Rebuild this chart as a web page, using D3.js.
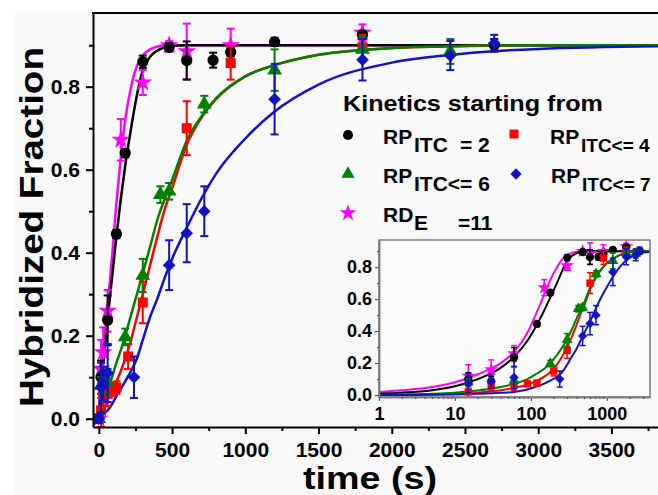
<!DOCTYPE html>
<html>
<head>
<meta charset="utf-8">
<script src="https://cdn.jsdelivr.net/npm/d3@7"></script>
<style>
  body { margin: 0; background: #fff; }
  svg { display: block; font-family: "Liberation Sans", Arial, sans-serif; font-weight: bold; }
</style>
</head>
<body>
<svg id="chart" width="658" height="495"></svg>
<script>
// measured points: time (s), hybridized fraction, error
const blackT = [15, 30, 60, 120, 180, 300, 480, 600, 780, 900, 1200, 1800, 2700];
const blackV = [0.10, 0.085, 0.237, 0.445, 0.64, 0.86, 0.895, 0.863, 0.864, 0.883, 0.908, 0.925, 0.90];
const blackE = [0.04, 0.03, 0.06, 0.01, 0.01, 0.015, 0.01, 0.046, 0.018, 0.01, 0.01, 0.01, 0.015];

const redT = [0, 15, 30, 60, 90, 120, 200, 300, 600, 900, 1800];
const redV = [0.0, 0.02, 0.06, 0.06, 0.07, 0.075, 0.15, 0.28, 0.70, 0.857, 0.895];
const redE = [0.01, 0.04, 0.03, 0.03, 0.015, 0.015, 0.03, 0.05, 0.065, 0.04, 0.03];

const greenT = [0, 15, 60, 180, 300, 420, 480, 720, 1200, 1800, 2400];
const greenV = [0.0, 0.08, 0.09, 0.197, 0.345, 0.54, 0.548, 0.758, 0.84, 0.89, 0.885];
const greenE = [0.01, 0.02, 0.03, 0.02, 0.04, 0.02, 0.02, 0.02, 0.05, 0.03, 0.03];

const blueT = [0, 15, 30, 60, 240, 480, 600, 720, 1200, 1800, 2400, 2700];
const blueV = [0.0, 0.075, 0.085, 0.11, 0.10, 0.37, 0.447, 0.50, 0.77, 0.865, 0.875, 0.905];
const blueE = [0.01, 0.06, 0.04, 0.07, 0.05, 0.06, 0.07, 0.06, 0.085, 0.05, 0.035, 0.02];

const magentaT = [0, 15, 30, 60, 150, 300, 480, 600, 900, 1800];
const magentaV = [0.0, 0.12, 0.16, 0.26, 0.672, 0.81, 0.90, 0.885, 0.90, 0.93];
const magentaE = [0.01, 0.07, 0.06, 0.05, 0.05, 0.03, 0.01, 0.067, 0.04, 0.02];

// fitted curves at these times
const curveT = [0, 1, 2, 5, 10, 20, 40, 60, 90, 120, 150, 180, 220, 260, 300, 350, 400, 450, 500, 600, 700, 800, 1000, 1200, 1500, 2000, 2500, 3000, 4000];
const blackFit = [0, 0.01, 0.015, 0.03, 0.055, 0.1, 0.17, 0.24, 0.34, 0.44, 0.53, 0.61, 0.70, 0.78, 0.84, 0.872, 0.887, 0.895, 0.898, 0.9, 0.9, 0.9, 0.9, 0.9, 0.9, 0.9, 0.9, 0.9, 0.9];
const magentaFit = [0, 0.02, 0.03, 0.05, 0.08, 0.13, 0.2, 0.27, 0.39, 0.52, 0.63, 0.72, 0.80, 0.85, 0.875, 0.89, 0.897, 0.9, 0.9, 0.9, 0.9, 0.9, 0.9, 0.9, 0.9, 0.9, 0.9, 0.9, 0.9];
const redFit = [0, 0.001, 0.002, 0.004, 0.008, 0.015, 0.03, 0.045, 0.065, 0.09, 0.115, 0.145, 0.19, 0.245, 0.30, 0.37, 0.44, 0.505, 0.555, 0.66, 0.725, 0.77, 0.825, 0.852, 0.877, 0.893, 0.898, 0.9, 0.9];
const greenFit = [0, 0.002, 0.004, 0.008, 0.015, 0.028, 0.05, 0.07, 0.10, 0.135, 0.165, 0.20, 0.25, 0.30, 0.35, 0.415, 0.48, 0.53, 0.575, 0.67, 0.728, 0.772, 0.825, 0.852, 0.877, 0.893, 0.898, 0.9, 0.9];
const blueFit = [0, 0.0005, 0.001, 0.002, 0.004, 0.008, 0.014, 0.02, 0.035, 0.055, 0.072, 0.09, 0.115, 0.145, 0.19, 0.245, 0.29, 0.34, 0.385, 0.46, 0.53, 0.59, 0.675, 0.74, 0.805, 0.858, 0.88, 0.891, 0.898];

const xTicks = [0, 500, 1000, 1500, 2000, 2500, 3000, 3500];
const yTicks = [0, 0.2, 0.4, 0.6, 0.8];
const insetXTicks = [1, 10, 100, 1000];

const series = [
  { name: 'magenta', color: '#ff00ff', sym: d3.symbolStar, rot: 0, t: magentaT, v: magentaV, e: magentaE, fit: magentaFit, size: 110 },
  { name: 'black', color: '#000000', sym: d3.symbolCircle, rot: 0, t: blackT, v: blackV, e: blackE, fit: blackFit, size: 100 },
  { name: 'red', color: '#ff0000', sym: d3.symbolSquare, rot: 0, t: redT, v: redV, e: redE, fit: redFit, size: 100 },
  { name: 'green', color: '#008000', sym: d3.symbolTriangle, rot: 0, t: greenT, v: greenV, e: greenE, fit: greenFit, size: 95 },
  { name: 'blue', color: '#1212c4', sym: d3.symbolSquare, rot: 45, t: blueT, v: blueV, e: blueE, fit: blueFit, size: 80 }
];

const svg = d3.select('#chart');

// background
svg.append('rect').attr('x', 15).attr('y', 12).attr('width', 643).attr('height', 483).attr('fill', '#f8f8f8');

// main scales
const x = d3.scaleLinear().domain([-40, 3900]).range([93, 670]);
const y = d3.scaleLinear().domain([-0.02, 0.98]).range([427, 12]);

svg.append('clipPath').attr('id', 'mainClip')
  .append('rect').attr('x', 93).attr('y', 12).attr('width', 577).attr('height', 415);

const main = svg.append('g').attr('clip-path', 'url(#mainClip)');

function drawLayer(g, xs, ys, opts, ptsFilter, fitFilter) {
  const line = d3.line().x(d => xs(d[0])).y(d => ys(d[1])).curve(d3.curveMonotoneX);
  // curves first, in drawing order
  const order = ['magenta', 'black', 'red', 'green', 'blue'];
  order.forEach(n => {
    const s = series.find(d => d.name === n);
    const fit = curveT.map((t, i) => [t, s.fit[i]]).filter(fitFilter);
    g.append('path').datum(fit)
      .attr('d', line)
      .attr('fill', 'none')
      .attr('stroke', s.color)
      .attr('stroke-width', opts.lw);
  });
  // error bars and markers
  series.forEach(s => {
    const pts = s.t.map((t, i) => ({ t: t, v: s.v[i], e: s.e[i] })).filter(ptsFilter);
    const eb = g.append('g').attr('stroke', s.color).attr('stroke-width', opts.ew);
    pts.forEach(p => {
      const px = xs(p.t);
      eb.append('line').attr('x1', px).attr('x2', px).attr('y1', ys(p.v - p.e)).attr('y2', ys(p.v + p.e));
      eb.append('line').attr('x1', px - opts.cap).attr('x2', px + opts.cap).attr('y1', ys(p.v - p.e)).attr('y2', ys(p.v - p.e));
      eb.append('line').attr('x1', px - opts.cap).attr('x2', px + opts.cap).attr('y1', ys(p.v + p.e)).attr('y2', ys(p.v + p.e));
    });
    g.selectAll(null).data(pts).enter().append('path')
      .attr('d', d3.symbol().type(s.sym).size(s.size * opts.scale))
      .attr('transform', d => 'translate(' + xs(d.t) + ',' + ys(d.v) + ') rotate(' + s.rot + ')')
      .attr('fill', s.color);
  });
}

drawLayer(main, x, y, { lw: 2.5, ew: 2, cap: 4, scale: 1 }, d => true, d => true);

// main axes
const yAxisG = svg.append('g').attr('transform', 'translate(93,0)')
  .call(d3.axisLeft(y).tickValues(yTicks).tickFormat(d3.format('.1f')).tickSize(7).tickSizeOuter(0).tickPadding(6));
svg.append('g').attr('transform', 'translate(93,0)')
  .call(d3.axisLeft(y).tickValues([0.1, 0.3, 0.5, 0.7, 0.9]).tickFormat('').tickSize(4).tickSizeOuter(0))
  .select('.domain').remove();
const xAxisG = svg.append('g').attr('transform', 'translate(0,427)')
  .call(d3.axisBottom(x).tickValues(xTicks).tickFormat(d3.format('d')).tickSize(7).tickSizeOuter(0).tickPadding(8));
svg.append('g').attr('transform', 'translate(0,427)')
  .call(d3.axisBottom(x).tickValues(xTicks.map(d => d + 250)).tickFormat('').tickSize(4).tickSizeOuter(0))
  .select('.domain').remove();

svg.selectAll('.domain').attr('stroke', '#000').attr('stroke-width', 2);
svg.selectAll('.tick line').attr('stroke', '#000').attr('stroke-width', 2);
yAxisG.selectAll('text').attr('font-size', 21).attr('font-weight', 'bold').attr('fill', '#000');
xAxisG.selectAll('text').attr('font-size', 21).attr('font-weight', 'bold').attr('fill', '#000');

// top frame line
svg.append('line').attr('x1', 92).attr('x2', 658).attr('y1', 13).attr('y2', 13)
  .attr('stroke', '#000').attr('stroke-width', 2);

// axis titles
svg.append('text')
  .attr('transform', 'translate(43,227) rotate(-90)')
  .attr('text-anchor', 'middle')
  .attr('font-size', 33)
  .attr('textLength', 360)
  .attr('lengthAdjust', 'spacingAndGlyphs')
  .text('Hybridized Fraction');

svg.append('text')
  .attr('x', 370).attr('y', 489)
  .attr('text-anchor', 'middle')
  .attr('font-size', 31)
  .attr('textLength', 134)
  .attr('lengthAdjust', 'spacingAndGlyphs')
  .text('time (s)');

// legend
svg.append('text').attr('x', 343).attr('y', 111).attr('font-size', 22)
  .attr('textLength', 260).attr('lengthAdjust', 'spacingAndGlyphs')
  .text('Kinetics starting from');

const legendRows = [
  { name: 'black', mx: 348, my: 135, tx: 383, ty: 144, main: 'RP', sub: 'ITC', tail: '= 2', tailX: 460, subSize: 21 },
  { name: 'red', mx: 514, my: 134, tx: 550, ty: 144, main: 'RP', sub: 'ITC<= 4', tail: '', tailX: 0, subSize: 19 },
  { name: 'green', mx: 348, my: 174, tx: 383, ty: 183, main: 'RP', sub: 'ITC<= 6', tail: '', tailX: 0, subSize: 21 },
  { name: 'blue', mx: 516, my: 174, tx: 551, ty: 183, main: 'RP', sub: 'ITC<= 7', tail: '', tailX: 0, subSize: 19 },
  { name: 'magenta', mx: 348, my: 213, tx: 383, ty: 222, main: 'RD', sub: 'E', tail: '=11', tailX: 458, subSize: 21 }
];
const leg = svg.append('g');
legendRows.forEach(r => {
  const s = series.find(d => d.name === r.name);
  leg.append('path')
    .attr('d', d3.symbol().type(s.sym).size(s.size * 0.8))
    .attr('transform', 'translate(' + r.mx + ',' + r.my + ') rotate(' + s.rot + ')')
    .attr('fill', s.color);
  leg.append('text').attr('x', r.tx).attr('y', r.ty).attr('font-size', 21).text(r.main);
  leg.append('text').attr('x', r.tx + 31).attr('y', r.ty + 8).attr('font-size', r.subSize).text(r.sub);
  if (r.tail) leg.append('text').attr('x', r.tailX).attr('y', r.ty + 8).attr('font-size', 21).text(r.tail);
});

// inset (log time)
const xi = d3.scaleLog().domain([1, 3700]).range([379, 650]);
const yi = d3.scaleLinear().domain([-0.012, 0.97]).range([397, 240]);

svg.append('rect').attr('x', 379).attr('y', 240).attr('width', 271).attr('height', 157)
  .attr('fill', '#fbfbfb');

svg.append('clipPath').attr('id', 'insetClip')
  .append('rect').attr('x', 379).attr('y', 240).attr('width', 271).attr('height', 157);
const inset = svg.append('g').attr('clip-path', 'url(#insetClip)');
drawLayer(inset, xi, yi, { lw: 2, ew: 1.5, cap: 3, scale: 0.55 }, d => d.t > 0, d => d[0] > 0);

svg.append('rect').attr('x', 379).attr('y', 240).attr('width', 271).attr('height', 157)
  .attr('fill', 'none').attr('stroke', '#7a7a7a').attr('stroke-width', 1.5);

const iy = svg.append('g').attr('transform', 'translate(379,0)')
  .call(d3.axisLeft(yi).tickValues(yTicks).tickFormat(d3.format('.1f')).tickSize(4).tickSizeOuter(0).tickPadding(3));
const iyMinor = svg.append('g').attr('transform', 'translate(379,0)')
  .call(d3.axisLeft(yi).tickValues([0.1, 0.3, 0.5, 0.7, 0.9]).tickFormat('').tickSize(2).tickSizeOuter(0));
const minorLog = [];
insetXTicks.forEach(dec => { for (let k = 2; k <= 9; k++) if (dec * k < 3700) minorLog.push(dec * k); });
const ix = svg.append('g').attr('transform', 'translate(0,397)')
  .call(d3.axisBottom(xi).tickValues(insetXTicks).tickFormat(d3.format('d')).tickSize(4).tickSizeOuter(0).tickPadding(6));
const ixMinor = svg.append('g').attr('transform', 'translate(0,397)')
  .call(d3.axisBottom(xi).tickValues(minorLog).tickFormat('').tickSize(2).tickSizeOuter(0));

[iy, iyMinor, ix, ixMinor].forEach(g => {
  g.select('.domain').attr('stroke', '#7a7a7a').attr('stroke-width', 1.5);
  g.selectAll('.tick line').attr('stroke', '#555').attr('stroke-width', 1.2);
});
iy.selectAll('text').attr('font-size', 18).attr('font-weight', 'bold').attr('fill', '#000');
ix.selectAll('text').attr('font-size', 18).attr('font-weight', 'bold').attr('fill', '#000');
</script>
</body>
</html>
